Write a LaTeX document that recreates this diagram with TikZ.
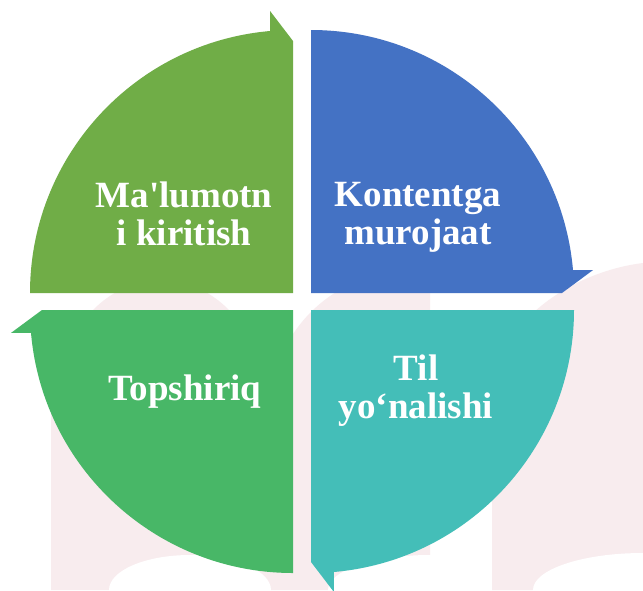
\documentclass[tikz,border=0pt]{standalone}
\usepackage{fontspec}
\setmainfont{Liberation Serif}
\newfontfamily\plainapos{Liberation Serif}
\definecolor{gTL}{RGB}{112,173,71}
\definecolor{bTR}{RGB}{68,114,196}
\definecolor{tBR}{RGB}{68,190,184}
\definecolor{gBL}{RGB}{72,183,103}
\definecolor{wm}{RGB}{248,236,238}
\begin{document}
\begin{tikzpicture}[x=1pt,y=-1pt,
  lbl/.style={text=white,font=\fontsize{37}{38}\selectfont\bfseries,align=center,inner sep=0pt}]
\useasboundingbox (0,0) rectangle (643,590);
\fill[white] (0,0) rectangle (643,590);
% faint watermark
\fill[wm] (51,590) -- (51,420) arc[start angle=180,end angle=360,x radius=110,y radius=140] -- (271,590) -- cycle;
\fill[wm] (270,590) -- (270,411) arc[start angle=180,end angle=270,radius=140] -- (430,271) -- (430,590) -- cycle;
\fill[white] (190,590) ellipse[x radius=81,y radius=35];
\fill[white] (430,590) ellipse[x radius=102,y radius=35];
\fill[wm] (492,590) -- (492,400) .. controls (492,325) and (570,272) .. (643,263) -- (643,590) -- cycle;
\fill[white] (643,590) ellipse[x radius=110,y radius=37];
% quadrants
\fill[gTL] (293,293) -- ++(180:263) arc[start angle=180,end angle=265,radius=263] -- ++(0,-20) -- (293,41) -- cycle;
\fill[bTR] (311,293) -- ++(270:263) arc[start angle=270,end angle=355,radius=263] -- ++(20,0) -- (562,293) -- cycle;
\fill[tBR] (311,310) -- ++(0:263) arc[start angle=0,end angle=85,radius=263] -- ++(0,20) -- (311,562) -- cycle;
\fill[gBL] (293,310) -- ++(90:263) arc[start angle=90,end angle=175,radius=263] -- ++(-20,0) -- (42,310) -- cycle;
% labels
\node[lbl] (t1) at (184,213.5) {Ma{\plainapos\bfseries'}lumotn\\i kiritish};
\node[lbl] (t2) at (418,217) {Kontentga\\murojaat};
\node[lbl] (t3) at (185,391.5) {Topshiriq};
\node[lbl] (t4) at (416,391) {Til\\yo‘nalishi};
\end{tikzpicture}
\end{document}
